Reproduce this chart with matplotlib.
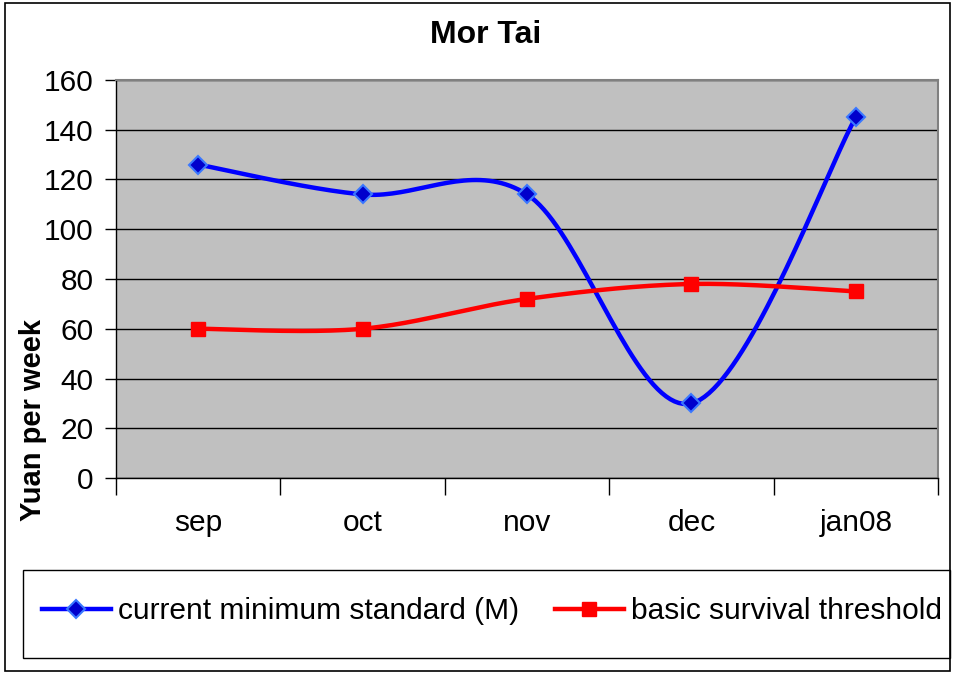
import numpy as np
import matplotlib
matplotlib.use("Agg")
import matplotlib.pyplot as plt
from matplotlib.patches import Rectangle
from matplotlib.lines import Line2D

months = ["sep", "oct", "nov", "dec", "jan08"]
current_min = [126, 114, 114, 30, 145]
survival = [60, 60, 72, 78, 75]
yticks = [0, 20, 40, 60, 80, 100, 120, 140, 160]

plt.rcParams['font.family'] = ['Liberation Sans', 'DejaVu Sans']

W, H = 954, 673
fig = plt.figure(figsize=(W / 100, H / 100), dpi=100)

def fx(px):
    return px / W

def fy(py):
    return 1 - py / H

# outer border
fig.patches.append(Rectangle((fx(5), fy(671)), fx(950) - fx(5), fy(3) - fy(671),
                             transform=fig.transFigure, fill=False, ec='black', lw=1.2))

ax = fig.add_axes([fx(116), fy(478), fx(938) - fx(116), fy(80) - fy(478)])
ax.set_facecolor('#c0c0c0')

def smooth(xs, ys, n=40):
    xs = np.asarray(xs, float)
    ys = np.asarray(ys, float)
    pts = np.column_stack([xs, ys])
    out = []
    for i in range(len(pts) - 1):
        p0 = pts[i - 1] if i > 0 else pts[i]
        p1 = pts[i]
        p2 = pts[i + 1]
        p3 = pts[i + 2] if i + 2 < len(pts) else pts[i + 1]
        c1 = p1 + (p2 - p0) / 6
        c2 = p2 - (p3 - p1) / 6
        t = np.linspace(0, 1, n)[:, None]
        seg = ((1 - t) ** 3) * p1 + 3 * ((1 - t) ** 2) * t * c1 + 3 * (1 - t) * t ** 2 * c2 + t ** 3 * p2
        out.append(seg if i == 0 else seg[1:])
    out = np.vstack(out)
    return out[:, 0], out[:, 1]

x = np.arange(len(months))
bx, by = smooth(x, current_min)
rx, ry = smooth(x, survival)

ax.plot(bx, by, color='#0000ff', lw=3.2, zorder=3, solid_capstyle='round')
ax.plot(x, current_min, ls='none', marker='D', ms=9, mfc='#0000cc', mec='#3a78ff', mew=1.5, zorder=4)
ax.plot(rx, ry, color='#ff0000', lw=3.2, zorder=3, solid_capstyle='round')
ax.plot(x, survival, ls='none', marker='s', ms=10, mfc='#ff0000', mec='#ff0000', zorder=4)

ax.set_xlim(-0.5, len(months) - 0.5)
ax.set_ylim(0, 160)
ax.set_yticks(yticks)
ax.set_yticklabels([str(v) for v in yticks], fontsize=21.5)
ax.yaxis.grid(True, color='black', lw=1)
ax.set_axisbelow(True)
ax.tick_params(axis='y', length=8, width=1, pad=8, direction='out')

ax.set_xticks(np.arange(len(months) + 1) - 0.5)
ax.set_xticklabels([])
ax.tick_params(axis='x', length=12, width=1, direction='out')
for i, m in enumerate(months):
    ax.text(i, -18, m, ha='center', va='center', fontsize=21.5)

for s in ['top', 'right']:
    ax.spines[s].set_color('#808080')
    ax.spines[s].set_linewidth(1.5)
for s in ['left', 'bottom']:
    ax.spines[s].set_color('black')
    ax.spines[s].set_linewidth(1)

fig.text(fx(486), fy(35), "Mor Tai", ha='center', va='center', fontsize=23, fontweight='bold')
fig.text(fx(33), fy(420), "Yuan per week", ha='center', va='center', rotation=90,
         fontsize=21, fontweight='bold')

# legend box
fig.patches.append(Rectangle((fx(23), fy(658)), fx(950) - fx(23), fy(570) - fy(658),
                             transform=fig.transFigure, fill=False, ec='black', lw=1))
h1 = Line2D([], [], color='#0000ff', lw=3.2, marker='D', ms=9, mfc='#0000cc', mec='#3a78ff', mew=1.5)
h2 = Line2D([], [], color='#ff0000', lw=3.2, marker='s', ms=10, mfc='#ff0000', mec='#ff0000')
fig.legend([h1, h2], ["current minimum standard (M)", "basic survival threshold"],
           loc='center', bbox_to_anchor=(fx(492), fy(611)), ncol=2, frameon=False,
           fontsize=21.5, handlelength=2.3, handletextpad=0.25, columnspacing=1.2)

fig.savefig("out.png", dpi=100)
